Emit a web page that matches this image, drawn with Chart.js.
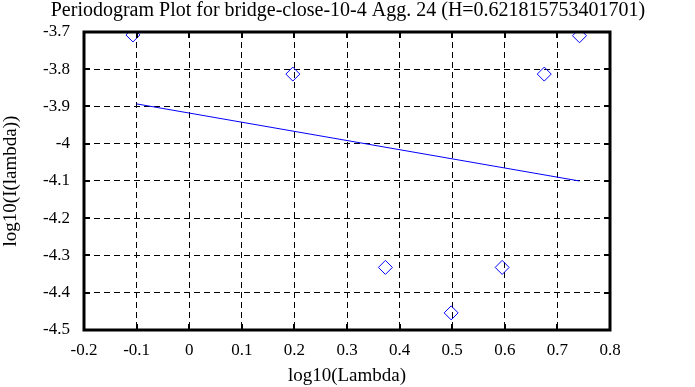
<!DOCTYPE html>
<html>
<head>
<meta charset="utf-8">
<script src="https://cdn.jsdelivr.net/npm/chart.js@4/dist/chart.umd.min.js"></script>
<style>
  html, body { margin: 0; padding: 0; background: #fff; }
  #wrap { width: 695px; height: 387px; }
</style>
</head>
<body>
<div id="wrap"><canvas id="myChart" width="695" height="387"></canvas></div>
<script>
// periodogram points (log10 lambda, log10 I(lambda))
var lambdaLog = [-0.107, 0.197, 0.373, 0.498, 0.595, 0.675, 0.742];
var periodLog = [-3.708, -3.813, -4.332, -4.454, -4.332, -3.813, -3.71];

// least squares fit line, ends
var fitX = [-0.1, 0.742];
var fitY = [-3.893, -4.1];

var xTicks = [-0.2, -0.1, 0, 0.1, 0.2, 0.3, 0.4, 0.5, 0.6, 0.7, 0.8];
var xTickLabels = ['-0.2', '-0.1', '0', '0.1', '0.2', '0.3', '0.4', '0.5', '0.6', '0.7', '0.8'];
var yTicks = [-4.5, -4.4, -4.3, -4.2, -4.1, -4, -3.9, -3.8, -3.7];
var yTickLabels = ['-4.5', '-4.4', '-4.3', '-4.2', '-4.1', '-4', '-3.9', '-3.8', '-3.7'];

var titleText = 'Periodogram Plot for bridge-close-10-4 Agg. 24 (H=0.621815753401701)';
var font = 'Liberation Serif';

var framePlugin = {
    id: 'frame',
    afterDraw: function(chart) {
        var ctx = chart.ctx;
        var a = chart.chartArea;
        var xs = chart.scales.x, ys = chart.scales.y;
        ctx.save();
        ctx.strokeStyle = '#000';
        ctx.setLineDash([]);
        ctx.lineWidth = 2;
        // inward tick marks on all four sides
        xTicks.forEach(function(v) {
            var px = Math.round(xs.getPixelForValue(v));
            ctx.beginPath();
            ctx.moveTo(px, a.bottom); ctx.lineTo(px, a.bottom - 6);
            ctx.moveTo(px, a.top); ctx.lineTo(px, a.top + 6);
            ctx.stroke();
        });
        yTicks.forEach(function(v) {
            var py = Math.round(ys.getPixelForValue(v));
            ctx.beginPath();
            ctx.moveTo(a.left, py); ctx.lineTo(a.left + 6, py);
            ctx.moveTo(a.right, py); ctx.lineTo(a.right - 6, py);
            ctx.stroke();
        });
        ctx.lineWidth = 3;
        ctx.strokeRect(a.left, a.top, a.right - a.left, a.bottom - a.top);
        // title
        ctx.fillStyle = '#000';
        ctx.font = '20px "' + font + '"';
        ctx.textAlign = 'center';
        ctx.textBaseline = 'middle';
        ctx.fillText(titleText, (a.left + a.right) / 2 + 1, 11);
        ctx.restore();
    }
};

var points = lambdaLog.map(function(x, i) { return {x: x, y: periodLog[i]}; });
var line = fitX.map(function(x, i) { return {x: x, y: fitY[i]}; });

var myChart = new Chart(
    document.getElementById('myChart'),
    {
        type: 'scatter',
        data: {
            datasets: [
                {
                    label: 'periodogram',
                    data: points,
                    pointStyle: 'rectRot',
                    pointRadius: 7,
                    pointBorderColor: '#0000ff',
                    pointBackgroundColor: 'rgba(0,0,0,0)',
                    pointBorderWidth: 1,
                    showLine: false
                },
                {
                    label: 'fit',
                    data: line,
                    showLine: true,
                    borderColor: '#0000ff',
                    borderWidth: 1,
                    pointRadius: 0,
                    fill: false
                }
            ]
        },
        options: {
            responsive: false,
            animation: false,
            events: [],
            layout: { padding: { top: 32, right: 85, left: 0, bottom: 0 } },
            plugins: {
                legend: { display: false },
                tooltip: { enabled: false },
                title: { display: false }
            },
            scales: {
                x: {
                    type: 'linear',
                    min: -0.2,
                    max: 0.8,
                    afterFit: function(scale) { scale.height = 57; },
                    afterBuildTicks: function(scale) {
                        scale.ticks = xTicks.map(function(v) { return {value: v}; });
                    },
                    ticks: {
                        color: '#000',
                        padding: 10,
                        maxRotation: 0,
                        font: { family: font, size: 17 },
                        callback: function(v) { return xTickLabels[xTicks.indexOf(v)]; }
                    },
                    grid: {
                        color: '#000',
                        lineWidth: 1,
                        drawTicks: false
                    },
                    border: { display: false, dash: [6, 4] },
                    title: {
                        display: true,
                        text: 'log10(Lambda)',
                        color: '#000',
                        font: { family: font, size: 19 },
                        padding: { top: 2, bottom: 0 }
                    }
                },
                y: {
                    type: 'linear',
                    min: -4.5,
                    max: -3.7,
                    afterFit: function(scale) { scale.width = 84; },
                    afterBuildTicks: function(scale) {
                        scale.ticks = yTicks.map(function(v) { return {value: v}; });
                    },
                    ticks: {
                        color: '#000',
                        padding: 14,
                        font: { family: font, size: 17 },
                        callback: function(v) { return yTickLabels[yTicks.indexOf(v)]; }
                    },
                    grid: {
                        color: '#000',
                        lineWidth: 1,
                        drawTicks: false
                    },
                    border: { display: false, dash: [6, 4] },
                    title: {
                        display: true,
                        text: 'log10(I(lambda))',
                        color: '#000',
                        font: { family: font, size: 19 },
                        padding: { top: 0, bottom: 0 }
                    }
                }
            }
        },
        plugins: [framePlugin]
    }
);
</script>
</body>
</html>
